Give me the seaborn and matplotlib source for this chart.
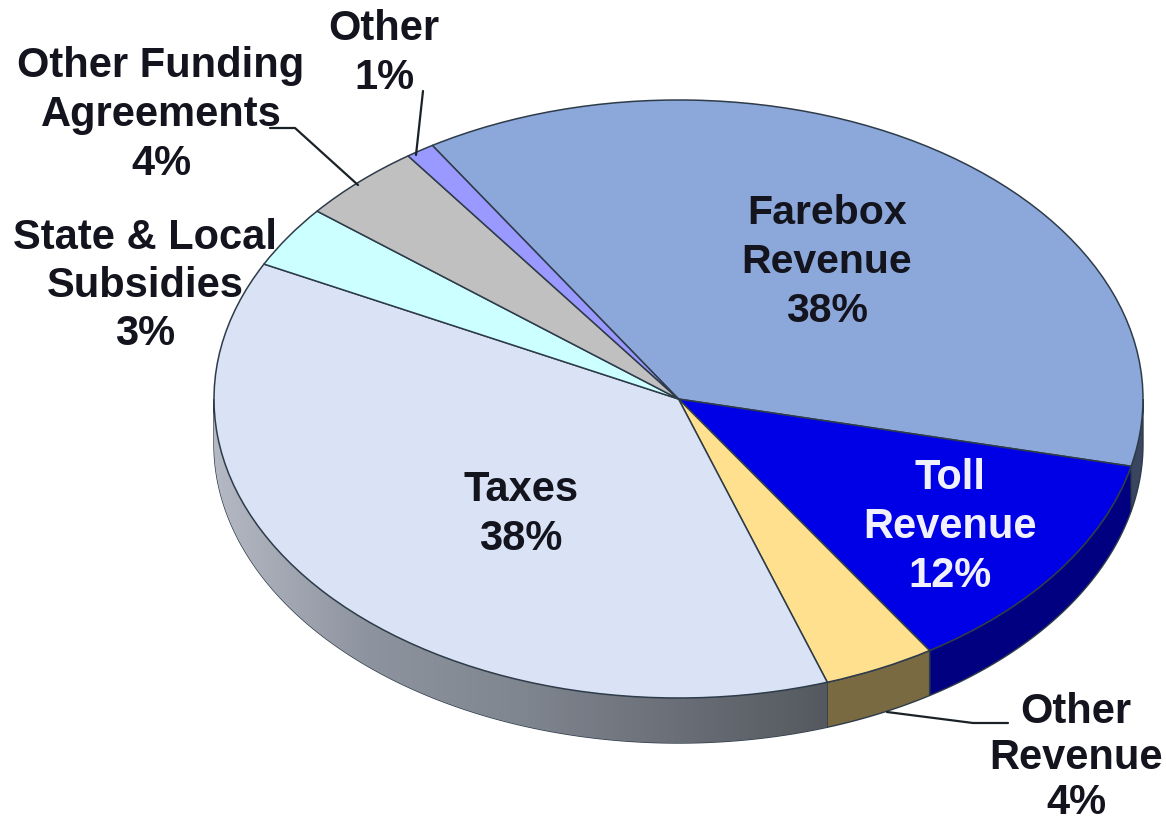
import numpy as np
import seaborn as sns
import matplotlib
matplotlib.use("Agg")
import matplotlib.pyplot as plt
from matplotlib.colors import LinearSegmentedColormap
from matplotlib.patches import Polygon

# slices, clockwise from the top left
sources = ["Farebox Revenue", "Toll Revenue", "Other Revenue", "Taxes",
           "State & Local Subsidies", "Other Funding Agreements", "Other"]
shares = [37.5, 12.3, 3.9, 37.64, 3.36, 4.3, 1.0]
top_colors = ["#8CA8DA", "#0000E6", "#FFE08F", "#D9E3F5", "#CCFFFF", "#C0C0C0", "#9999FF"]
wall_colors = ["#3A4660", "#000080", "#7A6A42", "#777D88", "#668080", "#606060", "#4C4C80"]

# label lines
farebox_lines = ["Farebox", "Revenue", "38%"]
toll_lines = ["Toll", "Revenue", "12%"]
taxes_lines = ["Taxes", "38%"]
other_lines = ["Other", "1%"]
funding_lines = ["Other Funding", "Agreements", "4%"]
state_lines = ["State & Local", "Subsidies", "3%"]
other_rev_lines = ["Other", "Revenue", "4%"]

W, H = 1166, 821
CX, CY, RX, RY = 678.5, 399, 464.5, 299
DEPTH = 45 / RY
EDGE = "#2E3C4A"

sns.set_theme(style="white")
plt.rcParams["font.family"] = ["Liberation Sans", "DejaVu Sans"]


def px(x, y):
    return (x - CX) / RX, (CY - y) / RY


fig = plt.figure(figsize=(W / 100, H / 100), dpi=100)
ax = fig.add_axes([0, 0, 1, 1])

wedges, _ = ax.pie(shares, colors=sns.color_palette(top_colors), startangle=122,
                   counterclock=False, radius=1,
                   wedgeprops={"edgecolor": EDGE, "linewidth": 1.1, "zorder": 5})
ax.set_aspect("auto")

# side of the disc, from the angles of the pie wedges
for w, name, col in zip(wedges, sources, wall_colors):
    a, b = max(w.theta1, -180), min(w.theta2, 0)
    if a >= b:
        continue
    t = np.radians(np.linspace(a, b, 120))
    xs = np.r_[np.cos(t), np.cos(t[::-1])]
    ys = np.r_[np.sin(t), np.sin(t[::-1]) - DEPTH]
    poly = Polygon(np.c_[xs, ys], closed=True, facecolor=col, edgecolor=EDGE,
                   linewidth=1.0, zorder=2)
    ax.add_patch(poly)
    if name == "Taxes":
        cmap = LinearSegmentedColormap.from_list(
            "wall", ["#B4B9C4", "#8E949F", "#80868F", "#6A6F78", "#55595F"])
        im = ax.imshow(np.linspace(0, 1, 256)[None, :], cmap=cmap, aspect="auto",
                       extent=(-1, xs.max(), ys.min(), 0), zorder=3)
        im.set_clip_path(poly)

ax.set_xlim(px(0, 0)[0], px(W, 0)[0])
ax.set_ylim(px(0, H)[1], px(0, 0)[1])

# leader lines
leaders = [
    [(270, 128), (295, 128), (358, 185)],
    [(423, 91), (416, 155)],
    [(887, 712), (973, 723), (1008, 723)],
]
for pts in leaders:
    lx, ly = zip(*[px(*p) for p in pts])
    ax.plot(lx, ly, color="#1A2228", lw=1.6, zorder=6)


def put_label(lines, x, y0, step, color="#14141E", size=30):
    for i, line in enumerate(lines):
        fig.text(x / W, 1 - (y0 + i * step) / H, line, ha="center", va="center",
                 fontsize=size, fontweight="bold", color=color)


put_label(farebox_lines, 827, 213, 49, size=29.5)
put_label(toll_lines, 950, 478, 49, color="#F0F0FF")
put_label(taxes_lines, 521, 490, 49)
put_label(other_lines, 384, 29, 49)
put_label(funding_lines, 161, 66, 49)
put_label(state_lines, 145, 238, 48)
put_label(other_rev_lines, 1076, 712, 45.5)

fig.savefig("out.png", dpi=100)
